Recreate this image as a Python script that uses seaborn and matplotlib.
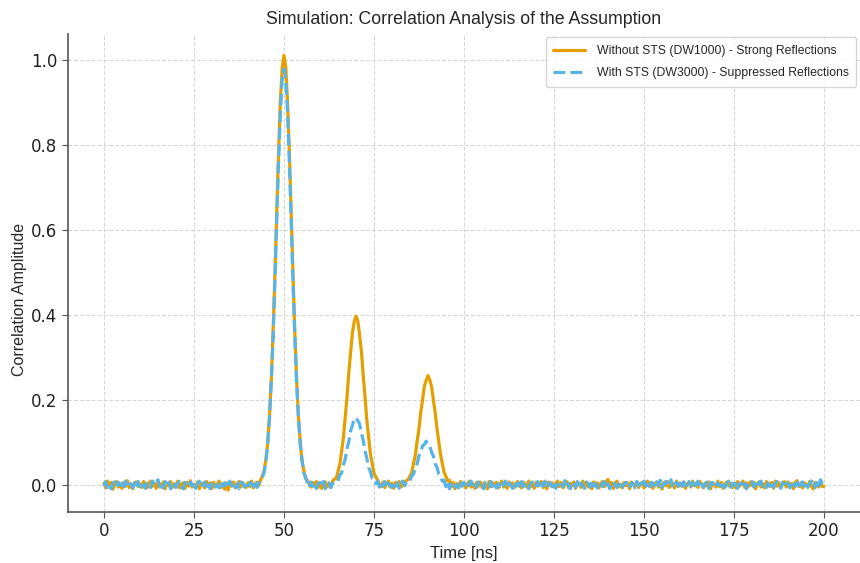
import numpy as np
import pandas as pd
import seaborn as sns
import matplotlib
matplotlib.use("Agg")
import matplotlib.pyplot as plt

# time axis (ns), half-ns steps
time_ns = np.arange(0, 401) * 0.5

# Without STS (DW1000) - strong reflections (10 values per 5 ns)
without_sts = [
    0.004, -0.007, 0.009, -0.002, 0.006, -0.010, 0.003, 0.008, -0.005, 0.001,
    -0.008, 0.006, -0.003, 0.010, -0.006, 0.002, -0.009, 0.005, 0.007, -0.004,
    0.003, -0.006, 0.008, -0.001, -0.007, 0.005, 0.009, -0.003, 0.004, -0.008,
    0.006, 0.002, -0.005, 0.007, -0.009, 0.004, -0.002, 0.008, -0.006, 0.003,
    -0.004, 0.009, -0.007, 0.002, 0.005, -0.008, 0.006, -0.003, 0.010, -0.005,
    0.001, -0.006, 0.007, -0.009, 0.004, 0.003, -0.007, 0.008, -0.002, 0.005,
    -0.008, 0.006, -0.004, 0.002, 0.009, -0.006, 0.003, -0.010, 0.005, -0.012,
    0.004, -0.003, 0.007, -0.007, 0.002, 0.008, -0.005, 0.006, -0.001, -0.006,
    0.005, -0.004, 0.009, -0.007, 0.003, 0.006, -0.002, 0.012, 0.020, 0.034,
    0.061, 0.100, 0.167, 0.249, 0.366, 0.495, 0.644, 0.781, 0.904, 0.980,
    1.010, 0.983, 0.899, 0.785, 0.639, 0.499, 0.362, 0.253, 0.163, 0.104,
    0.057, 0.035, 0.015, 0.011, 0.002, -0.005, 0.006, -0.003, 0.008, -0.006,
    0.003, -0.008, 0.005, 0.007, -0.004, 0.002, -0.006, 0.009, 0.014, 0.015,
    0.032, 0.048, 0.078, 0.110, 0.158, 0.205, 0.263, 0.311, 0.357, 0.384,
    0.397, 0.386, 0.354, 0.315, 0.259, 0.209, 0.154, 0.113, 0.074, 0.051,
    0.028, 0.019, 0.012, 0.002, -0.004, 0.007, -0.006, 0.003, 0.009, -0.005,
    0.004, -0.008, 0.006, -0.002, 0.008, -0.005, 0.001, 0.007, 0.010, 0.013,
    0.021, 0.029, 0.051, 0.070, 0.103, 0.132, 0.171, 0.200, 0.232, 0.246,
    0.257, 0.247, 0.231, 0.201, 0.170, 0.133, 0.102, 0.071, 0.050, 0.029,
    0.020, 0.009, 0.011, -0.004, 0.006, -0.009, 0.003, -0.006, 0.008, -0.002,
    0.005, -0.007, 0.003, 0.009, -0.005, 0.002, -0.008, 0.006, -0.003, 0.007,
    -0.006, 0.004, 0.001, -0.009, 0.008, -0.004, 0.005, -0.002, 0.006, -0.007,
    0.003, 0.009, -0.005, 0.002, -0.008, 0.007, -0.003, 0.005, -0.006, 0.004,
    0.008, -0.002, -0.007, 0.006, 0.003, -0.005, 0.009, -0.004, 0.002, -0.008,
    0.006, -0.003, 0.004, 0.008, -0.006, 0.001, -0.009, 0.007, -0.002, 0.005,
    -0.005, 0.003, 0.009, -0.004, 0.006, -0.007, 0.002, 0.008, -0.006, 0.004,
    -0.002, 0.007, -0.008, 0.005, 0.003, -0.006, 0.009, -0.003, 0.006, -0.005,
    0.002, -0.009, 0.007, -0.001, 0.005, -0.007, 0.004, 0.008, -0.004, 0.006,
    0.013, -0.003, 0.006, -0.008, 0.004, 0.009, -0.005, 0.002, -0.007, 0.006,
    -0.002, 0.005, -0.009, 0.007, 0.003, -0.004, 0.008, -0.006, 0.001, 0.006,
    -0.007, 0.004, 0.009, -0.003, 0.006, -0.008, 0.002, 0.007, -0.005, 0.003,
    -0.010, 0.006, -0.002, 0.008, -0.006, 0.004, 0.003, -0.007, 0.009, -0.004,
    0.005, -0.003, 0.007, -0.008, 0.002, 0.006, -0.005, 0.009, -0.002, 0.004,
    -0.006, 0.008, 0.001, -0.007, 0.005, -0.003, 0.007, -0.009, 0.004, 0.002,
    -0.005, 0.009, -0.004, 0.006, -0.008, 0.003, 0.007, -0.002, 0.005, -0.006,
    0.004, -0.007, 0.008, -0.003, 0.002, 0.009, -0.006, 0.005, -0.004, 0.007,
    -0.002, 0.006, -0.009, 0.004, 0.007, -0.005, 0.003, -0.007, 0.008, 0.001,
    -0.004, 0.006, -0.008, 0.009, -0.003, 0.005, -0.006, 0.002, 0.008, -0.005,
    0.007, -0.002, 0.004, -0.009, 0.006, 0.010, -0.004, 0.003, -0.007, 0.005,
    0.002, -0.006, 0.008, -0.003, -0.009, 0.006, 0.004, -0.005, 0.007, -0.004,
    -0.003,
]

# With STS (DW3000) - suppressed reflections
with_sts = [
    -0.003, 0.008, -0.006, 0.002, -0.009, 0.005, 0.007, -0.004, 0.006, -0.002,
    0.004, -0.008, 0.009, -0.003, 0.006, 0.001, -0.007, 0.005, -0.005, 0.008,
    -0.004, 0.006, -0.002, -0.008, 0.007, 0.003, -0.006, 0.009, -0.001, 0.005,
    0.012, -0.005, 0.004, -0.007, 0.008, -0.003, 0.006, -0.009, 0.002, 0.007,
    -0.006, 0.003, 0.008, -0.004, -0.009, 0.006, 0.002, -0.005, 0.007, -0.003,
    0.005, -0.008, 0.004, 0.009, -0.006, 0.001, 0.007, -0.004, 0.006, -0.009,
    0.003, 0.007, -0.005, 0.002, -0.007, 0.008, -0.003, 0.005, -0.008, 0.004,
    0.009, -0.002, 0.006, -0.006, 0.003, -0.009, 0.007, 0.004, -0.005, 0.002,
    -0.007, 0.006, 0.003, -0.004, 0.008, -0.006, 0.004, 0.010, 0.019, 0.030,
    0.055, 0.101, 0.158, 0.247, 0.350, 0.485, 0.619, 0.762, 0.872, 0.955,
    0.978, 0.951, 0.877, 0.757, 0.624, 0.480, 0.355, 0.242, 0.162, 0.097,
    0.060, 0.029, 0.019, 0.004, -0.006, 0.007, -0.003, 0.005, -0.008, 0.003,
    0.006, -0.004, 0.008, -0.009, 0.002, 0.005, -0.006, 0.003, 0.007, 0.009,
    0.008, 0.024, 0.027, 0.047, 0.060, 0.085, 0.101, 0.127, 0.140, 0.155,
    0.158, 0.151, 0.144, 0.122, 0.106, 0.080, 0.064, 0.041, 0.032, 0.016,
    0.014, 0.003, 0.009, -0.005, 0.006, -0.003, 0.008, -0.007, 0.004, -0.001,
    -0.006, 0.007, -0.003, 0.005, -0.008, 0.004, 0.009, -0.002, 0.006, 0.011,
    0.009, 0.022, 0.025, 0.042, 0.050, 0.069, 0.077, 0.092, 0.095, 0.103,
    0.096, 0.092, 0.077, 0.068, 0.050, 0.042, 0.026, 0.021, 0.009, 0.011,
    -0.004, 0.006, -0.009, 0.003, 0.007, -0.005, 0.002, -0.007, 0.008, -0.003,
    0.006, -0.002, -0.008, 0.005, 0.009, -0.004, 0.003, -0.006, 0.007, -0.001,
    0.004, -0.009, 0.006, 0.002, -0.005, 0.008, -0.003, 0.005, -0.007, 0.003,
    -0.004, 0.007, -0.002, 0.009, -0.006, 0.004, 0.001, -0.008, 0.006, -0.003,
    0.005, -0.007, 0.008, -0.004, 0.002, 0.006, -0.009, 0.003, 0.007, -0.005,
    -0.002, 0.008, -0.006, 0.004, -0.003, 0.009, -0.007, 0.002, 0.005, -0.004,
    0.007, -0.008, 0.003, -0.002, 0.006, -0.005, 0.010, -0.003, 0.004, -0.009,
    0.006, 0.002, -0.006, 0.008, -0.004, 0.005, -0.001, -0.008, 0.007, 0.003,
    -0.005, 0.009, -0.003, 0.004, -0.007, 0.006, 0.002, -0.004, 0.008, -0.006,
    0.003, -0.009, 0.005, 0.007, -0.002, -0.006, 0.004, 0.009, -0.005, 0.002,
    0.006, -0.004, -0.008, 0.005, 0.003, -0.007, 0.008, -0.002, 0.004, -0.006,
    0.009, -0.003, 0.002, -0.008, 0.006, 0.004, -0.005, 0.007, -0.002, 0.011,
    -0.006, 0.003, 0.008, -0.004, 0.005, 0.012, -0.007, 0.002, 0.006, -0.003,
    0.004, -0.009, 0.007, 0.002, -0.005, 0.008, -0.003, 0.006, -0.007, 0.003,
    0.009, -0.004, 0.005, -0.006, 0.001, 0.007, -0.008, 0.004, 0.006, -0.002,
    -0.007, 0.005, 0.002, -0.004, 0.008, -0.006, 0.003, 0.009, -0.005, 0.004,
    -0.002, 0.007, -0.008, 0.003, 0.005, -0.003, 0.006, -0.009, 0.004, 0.002,
    0.008, -0.005, 0.003, -0.007, 0.006, 0.009, -0.004, 0.002, -0.006, 0.005,
    -0.003, 0.007, -0.006, 0.004, 0.008, -0.002, -0.008, 0.006, 0.003, -0.005,
    0.005, -0.007, 0.009, 0.002, -0.004, 0.006, -0.009, 0.004, 0.007, -0.003,
    0.006, -0.005, 0.003, 0.008, 0.014, -0.006, 0.005, -0.008, 0.012, 0.004,
    0.003,
]

df = pd.DataFrame({"t": time_ns, "without": without_sts, "with": with_sts})

sns.set_style("ticks")
plt.rcParams["font.family"] = ["DejaVu Sans"]
label_font = ["Liberation Sans", "DejaVu Sans"]

fig = plt.figure(figsize=(8.6, 5.63), dpi=100)
ax = fig.add_axes([0.079, 0.091, 0.921, 0.849])

sns.lineplot(data=df, x="t", y="without", ax=ax, color="#E69F00", linewidth=2.3,
             label="Without STS (DW1000) - Strong Reflections")
sns.lineplot(data=df, x="t", y="with", ax=ax, color="#56B4E9", linewidth=2.3,
             linestyle="--", label="With STS (DW3000) - Suppressed Reflections")

ax.set_xticks([0, 25, 50, 75, 100, 125, 150, 175, 200])
ax.set_yticks([0.0, 0.2, 0.4, 0.6, 0.8, 1.0])
ax.tick_params(labelsize=12, color="#555555", length=4, labelcolor="#222222")
ax.grid(True, linestyle=(0, (4, 2)), color="#d5d5d5", linewidth=0.7)
sns.despine(ax=ax)
for s in ("left", "bottom"):
    ax.spines[s].set_color("#555555")
    ax.spines[s].set_linewidth(1.2)

ax.set_title("Simulation: Correlation Analysis of the Assumption", fontsize=12.8,
             family=label_font, pad=7)
ax.set_xlabel("Time [ns]", fontsize=12, family=label_font)
ax.set_ylabel("Correlation Amplitude", fontsize=11.5, family=label_font)
ax.yaxis.set_label_coords(-0.052, 0.445)
ax.legend(loc="upper right", prop={"family": label_font, "size": 8.8},
          frameon=True, handlelength=2.6, handletextpad=1.0, labelspacing=0.85,
          borderpad=0.6, borderaxespad=0.3)

fig.savefig("out.png", dpi=100)
